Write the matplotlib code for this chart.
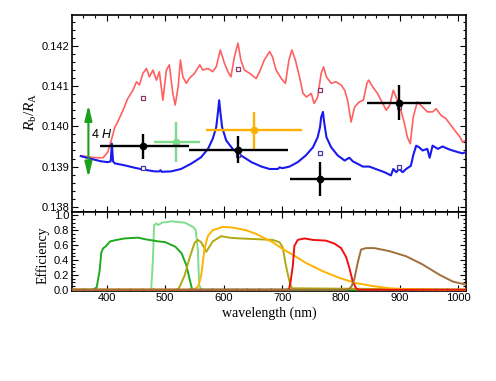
import matplotlib
matplotlib.use("Agg")
import matplotlib.pyplot as plt
from matplotlib.ticker import MultipleLocator, FormatStrFormatter

plt.rcParams['font.family'] = ['Liberation Sans', 'DejaVu Sans']
plt.rcParams['mathtext.fontset'] = 'custom'
plt.rcParams['mathtext.rm'] = 'Liberation Serif'
plt.rcParams['mathtext.it'] = 'Liberation Serif:italic'
plt.rcParams['mathtext.sf'] = 'Liberation Sans:italic'

# ---------------- data ----------------
red_wl = [356, 380, 394, 402, 408, 414, 419, 428, 436, 445, 451, 456, 462, 468, 473, 479,
          485, 490, 496, 502, 507, 513, 517, 522, 526, 530, 536, 541, 550, 559, 564, 573,
          581, 587, 594, 601, 607, 612, 618, 624, 629, 635, 644, 655, 661, 669, 678, 683,
          689, 698, 705, 711, 716, 722, 729, 735, 741, 749, 754, 760, 766, 770, 775, 783,
          791, 800, 806, 811, 817, 823, 831, 838, 844, 847, 854, 862, 871, 877, 883, 889,
          896, 902, 908, 913, 918, 923, 930, 939, 947, 956, 962, 970, 979, 987, 996, 1003,
          1007, 1013]
red_val = [0.13927, 0.13922, 0.13922, 0.13936, 0.13965, 0.13998, 0.14011, 0.14040, 0.14069,
           0.14090, 0.14111, 0.14103, 0.14132, 0.14144, 0.14123, 0.14140, 0.14115, 0.14136,
           0.14065, 0.14140, 0.14153, 0.14082, 0.14053, 0.14098, 0.14165, 0.14123, 0.14107,
           0.14119, 0.14132, 0.14153, 0.14140, 0.14144, 0.14136, 0.14148, 0.14190, 0.14157,
           0.14136, 0.14123, 0.14173, 0.14207, 0.14165, 0.14140, 0.14132, 0.14119, 0.14136,
           0.14165, 0.14186, 0.14173, 0.14140, 0.14119, 0.14107, 0.14165, 0.14190, 0.14165,
           0.14123, 0.14082, 0.14073, 0.14082, 0.14057, 0.14073, 0.14132, 0.14148, 0.14123,
           0.14107, 0.14111, 0.14103, 0.14090, 0.14065, 0.14011, 0.14048, 0.14061, 0.14065,
           0.14107, 0.14115, 0.14098, 0.14082, 0.14057, 0.14040, 0.14053, 0.14090, 0.14065,
           0.14040, 0.14007, 0.13973, 0.13957, 0.14023, 0.14061, 0.14048, 0.14036, 0.14036,
           0.14044, 0.14028, 0.14019, 0.14003, 0.13986, 0.13973, 0.13961, 0.13965]

blue_wl = [356, 374, 391, 402, 407, 409, 411, 414, 431, 448, 465, 482, 490, 492, 494, 510,
           527, 544, 561, 573, 581, 587, 590, 592, 594, 597, 604, 615, 629, 647, 664, 678,
           692, 695, 700, 712, 726, 740, 752, 760, 764, 766, 769, 771, 775, 783, 794, 806,
           814, 820, 828, 837, 848, 859, 874, 885, 889, 894, 899, 905, 911, 919, 923, 928,
           933, 939, 947, 951, 956, 965, 973, 982, 990, 999, 1007, 1013]
blue_val = [0.13926, 0.13919, 0.13913, 0.13911, 0.13913, 0.13957, 0.13913, 0.13908, 0.13903,
            0.13897, 0.13892, 0.13888, 0.13888, 0.13891, 0.13887, 0.13888, 0.13894, 0.13907,
            0.13923, 0.13944, 0.13969, 0.13998, 0.14036, 0.14065, 0.14036, 0.13998, 0.13965,
            0.13944, 0.13928, 0.13911, 0.13900, 0.13894, 0.13894, 0.13898, 0.13896, 0.13900,
            0.13911, 0.13928, 0.13948, 0.13973, 0.13998, 0.14023, 0.14036, 0.14011, 0.13973,
            0.13948, 0.13928, 0.13915, 0.13922, 0.13913, 0.13907, 0.13900, 0.13900, 0.13894,
            0.13886, 0.13878, 0.13894, 0.13886, 0.13894, 0.13886, 0.13894, 0.13902, 0.13928,
            0.13952, 0.13948, 0.13940, 0.13944, 0.13922, 0.13952, 0.13944, 0.13950, 0.13944,
            0.13940, 0.13936, 0.13933, 0.13936]

# measured points (black) with wavelength bins
pt_wl = [462, 624, 764, 898]
pt_val = [0.13951, 0.13942, 0.13869, 0.14059]
pt_err = [0.00031, 0.00033, 0.00042, 0.00044]
pt_lo = [388, 541, 713, 845]
pt_hi = [541, 709, 817, 953]
# light-green point
lg_wl, lg_val, lg_err, lg_lo, lg_hi = 519, 0.13961, 0.00049, 481, 560
# orange point
or_wl, or_val, or_err, or_lo, or_hi = 651, 0.13990, 0.00046, 569, 733

# binned model squares
sq_wl = [462, 624, 764, 898]
sq_upper = [0.14071, 0.14142, 0.14090, 0.14048]
sq_lower = [0.13896, 0.13928, 0.13934, 0.13900]

# scale-height arrow
arrow_wl = 369
arrow_lo, arrow_hi = 0.13873, 0.14053

# filter efficiencies
f1_wl = [340, 376, 383, 388, 391, 394, 398, 406, 417, 431, 454, 465, 488, 500, 517, 528, 536, 542, 546, 1013]
f1_val = [0, 0, 0.03, 0.25, 0.50, 0.556, 0.58, 0.65, 0.67, 0.69, 0.70, 0.68, 0.65, 0.64, 0.58, 0.49, 0.33, 0.13, 0.0, 0]
f2_wl = [340, 476, 479, 481, 485, 488, 494, 511, 534, 548, 552, 555.5, 558, 562, 1013]
f2_val = [0, 0, 0.40, 0.87, 0.89, 0.87, 0.90, 0.92, 0.90, 0.84, 0.80, 0.55, 0.06, 0, 0]
f3_wl = [340, 520, 524, 533, 541.6, 550, 555.6, 561.3, 570, 581, 595.4, 609.5, 626.6, 655, 683.3,
         694.7, 700.4, 706, 711.6, 716, 1013]
f3_val = [0, 0, 0.03, 0.19, 0.43, 0.63, 0.67, 0.64, 0.51, 0.65, 0.72, 0.70, 0.69, 0.68, 0.67,
          0.64, 0.57, 0.32, 0.12, 0.02, 0]
f4_wl = [340, 548, 556, 561.3, 567, 572.6, 581, 598, 615, 638, 655, 683, 700, 717.6, 740, 768.5,
         797, 825, 853.6, 882, 911, 968, 1013]
f4_val = [0, 0, 0.04, 0.19, 0.55, 0.72, 0.80, 0.845, 0.836, 0.80, 0.75, 0.64, 0.55, 0.47, 0.36, 0.25,
          0.16, 0.09, 0.05, 0.02, 0.01, 0.0, 0.0]
f5_wl = [340, 708, 711.6, 714, 717.6, 720.3, 726, 737.5, 751.7, 774.4, 788.6, 800, 808.5, 814.2,
         819.8, 825.5, 830, 1013]
f5_val = [0, 0, 0.02, 0.12, 0.32, 0.59, 0.67, 0.69, 0.67, 0.66, 0.62, 0.56, 0.44, 0.29, 0.11, 0.02, 0, 0]
f6_wl = [340, 808, 814, 818, 822.5, 828.2, 834, 842.5, 856.6, 882, 911, 939, 968, 990.6, 1012]
f6_val = [0, 0, 0.01, 0.05, 0.14, 0.36, 0.54, 0.56, 0.56, 0.52, 0.45, 0.34, 0.20, 0.11, 0.07]

x_ticks = [400, 500, 600, 700, 800, 900, 1000]

# ---------------- figure ----------------
W, H = 496, 381
fig = plt.figure(figsize=(W / 100, H / 100), dpi=100)
L, R = 72, 466
ax1 = fig.add_axes([L / W, 1 - 212 / H, (R - L) / W, (212 - 15) / H])
ax2 = fig.add_axes([L / W, 1 - 290.5 / H, (R - L) / W, (290.5 - 212) / H])

xlim = (341, 1013)

# top panel
ax1.plot(red_wl, red_val, color='#ff6060', lw=1.2, zorder=2)
ax1.plot(blue_wl, blue_val, color='#1a1aee', lw=1.5, zorder=3)
ax1.plot(sq_wl, sq_upper, ls='none', marker='s', ms=3.5, mfc='white', mec='#8a3a6a', mew=0.9, zorder=4)
ax1.plot(sq_wl, sq_lower, ls='none', marker='s', ms=3.5, mfc='white', mec='#4a3aa0', mew=0.9, zorder=4)

def errpt(ax, x, y, ye, lo, hi, color, z):
    ax.errorbar([x], [y], yerr=[[ye], [ye]], xerr=[[x - lo], [hi - x]], fmt='o', color=color,
                ms=4.5, elinewidth=1.7, capsize=0, zorder=z)

errpt(ax1, lg_wl, lg_val, lg_err, lg_lo, lg_hi, '#7ddc8a', 5)
errpt(ax1, or_wl, or_val, or_err, or_lo, or_hi, '#ffb000', 5)
for x, y, e, lo, hi in zip(pt_wl, pt_val, pt_err, pt_lo, pt_hi):
    errpt(ax1, x, y, e, lo, hi, 'black', 6)

ax1.annotate('', xy=(arrow_wl, arrow_hi), xytext=(arrow_wl, arrow_lo),
             arrowprops=dict(arrowstyle='<|-|>,head_length=0.9,head_width=0.22', color='#1aa01a', lw=1.5,
                             mutation_scale=10, shrinkA=0, shrinkB=0))
ax1.text(373, 0.13979, '4 $\\mathsf{H}$', fontsize=9, va='center', ha='left')

ax1.set_xlim(*xlim)
ax1.set_ylim(0.13787, 0.14277)
ax1.yaxis.set_major_locator(MultipleLocator(0.001))
ax1.yaxis.set_minor_locator(MultipleLocator(0.0002))
ax1.yaxis.set_major_formatter(FormatStrFormatter('%.3f'))
ax1.set_xticks(x_ticks)
ax1.xaxis.set_minor_locator(MultipleLocator(20))
ax1.tick_params(labelbottom=False)
ax1.set_ylabel(r'$R_{\mathrm{b}}/R_{\mathrm{A}}$', fontsize=11)
ax1.yaxis.set_label_coords(-0.085, 0.51)

# bottom panel
lw_f = 1.4
ax2.plot(f1_wl, f1_val, color='#1faa1f', lw=lw_f, zorder=3)
ax2.plot(f2_wl, f2_val, color='#80dd90', lw=lw_f, zorder=2)
ax2.plot(f3_wl, f3_val, color='#b0aa10', lw=lw_f, zorder=3)
ax2.plot(f4_wl, f4_val, color='#ffb300', lw=lw_f, zorder=3)
ax2.plot(f5_wl, f5_val, color='#ee1111', lw=lw_f, zorder=3)
ax2.plot(f6_wl, f6_val, color='#a0703c', lw=lw_f, zorder=3)
ax2.set_xlim(*xlim)
ax2.set_ylim(-0.01, 1.045)
ax2.set_yticks([0.0, 0.2, 0.4, 0.6, 0.8, 1.0])
ax2.yaxis.set_major_formatter(FormatStrFormatter('%.1f'))
ax2.yaxis.set_minor_locator(MultipleLocator(0.05))
ax2.set_xticks(x_ticks)
ax2.xaxis.set_minor_locator(MultipleLocator(20))
ax2.set_ylabel('Efficiency', family='Liberation Serif', fontsize=10)
ax2.yaxis.set_label_coords(-0.057, 0.45)
ax2.set_xlabel('wavelength (nm)', family='Liberation Serif', fontsize=10, labelpad=2)

for ax in (ax1, ax2):
    for s in ax.spines.values():
        s.set_linewidth(1.2)
    ax.tick_params(which='both', direction='in', top=True, right=True, labelsize=8, width=0.8)
    ax.tick_params(which='major', length=4, pad=2)
    ax.tick_params(which='minor', length=2)

fig.savefig('out.png', dpi=100)
